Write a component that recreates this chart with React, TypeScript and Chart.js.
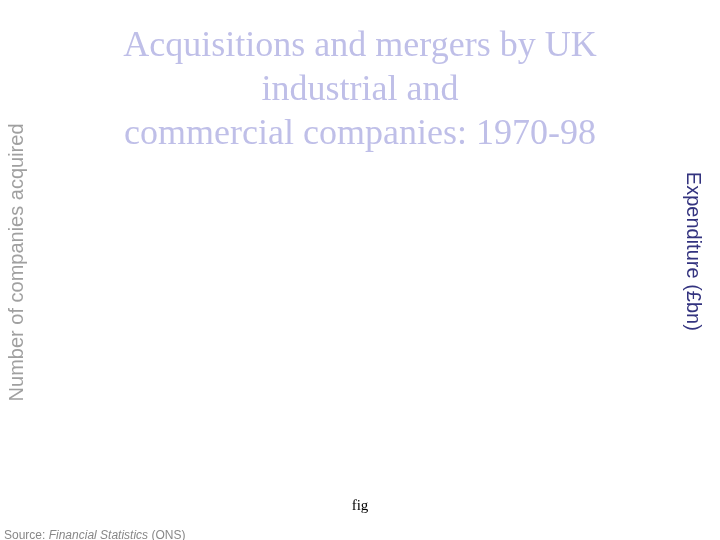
import * as React from 'react';
import { Chart, registerables } from 'chart.js';

Chart.register(...registerables);

// the reference shows only the frame of the chart: no bars or lines are drawn
const years: string[] = [];
const companiesAcquired: number[] = [];
const expenditure: number[] = [];

const titleLines = ['Acquisitions and mergers by UK', 'industrial and', 'commercial companies: 1970-98'];

const App = () => {
  const chartRef = React.useRef<HTMLCanvasElement>(null);

  React.useEffect(() => {
    if (chartRef.current === null) return;
    const chart: any = new Chart(chartRef.current, {
      type: 'bar',
      data: {
        labels: years,
        datasets: [
          {
            type: 'bar',
            label: 'Number of companies acquired',
            data: companiesAcquired,
            yAxisID: 'y',
            backgroundColor: '#9999cc',
          },
          {
            type: 'line',
            label: 'Expenditure (£bn)',
            data: expenditure,
            yAxisID: 'y1',
            borderColor: '#333380',
          },
        ],
      },
      options: {
        animation: false,
        responsive: false,
        layout: { padding: 0 },
        plugins: {
          legend: { display: false },
          tooltip: { enabled: false },
          title: {
            display: true,
            text: titleLines,
            color: '#bfbfe8',
            font: { family: '"Liberation Serif", "Times New Roman", serif', size: 36, weight: 'normal', lineHeight: 1.22 },
            padding: { top: 25, bottom: 10 },
          },
          subtitle: {
            display: true,
            position: 'bottom',
            text: 'fig',
            color: '#000000',
            font: { family: '"Liberation Serif", "Times New Roman", serif', size: 15, weight: 'normal', lineHeight: 1.2 },
            padding: { top: 150, bottom: 25 },
          },
        },
        scales: {
          x: { display: false },
          y: {
            position: 'left',
            min: 0,
            max: 1,
            grid: { display: false },
            border: { display: false },
            ticks: { display: false },
            title: {
              display: true,
              // trailing spaces nudge the rotated label down a little
              text: 'Number of companies acquired  ',
              color: '#a0a0a0',
              font: { family: '"Liberation Sans", Arial, sans-serif', size: 20 },
              padding: { top: 5, bottom: 4 },
            },
          },
          y1: {
            position: 'right',
            min: 0,
            max: 1,
            grid: { display: false },
            border: { display: false },
            ticks: { display: false },
            title: {
              display: true,
              text: 'Expenditure (£bn)  ',
              color: '#33337f',
              font: { family: '"Liberation Sans", Arial, sans-serif', size: 20 },
              padding: { top: 15, bottom: 4 },
            },
          },
        },
      },
    });

    return () => {
      chart.destroy();
    };
  }, []);

  return (
    <div style={{ position: 'fixed', left: 0, top: 0, width: 720, height: 540, background: '#ffffff' }}>
      <canvas ref={chartRef} width={720} height={540} />
      <div
        style={{
          position: 'absolute',
          left: 4,
          top: 528,
          fontFamily: '"Liberation Sans", Arial, sans-serif',
          fontSize: 12,
          color: '#888888',
          whiteSpace: 'nowrap',
        }}
      >
        Source: <i>Financial Statistics</i> (ONS)
      </div>
    </div>
  );
};

export default App;
